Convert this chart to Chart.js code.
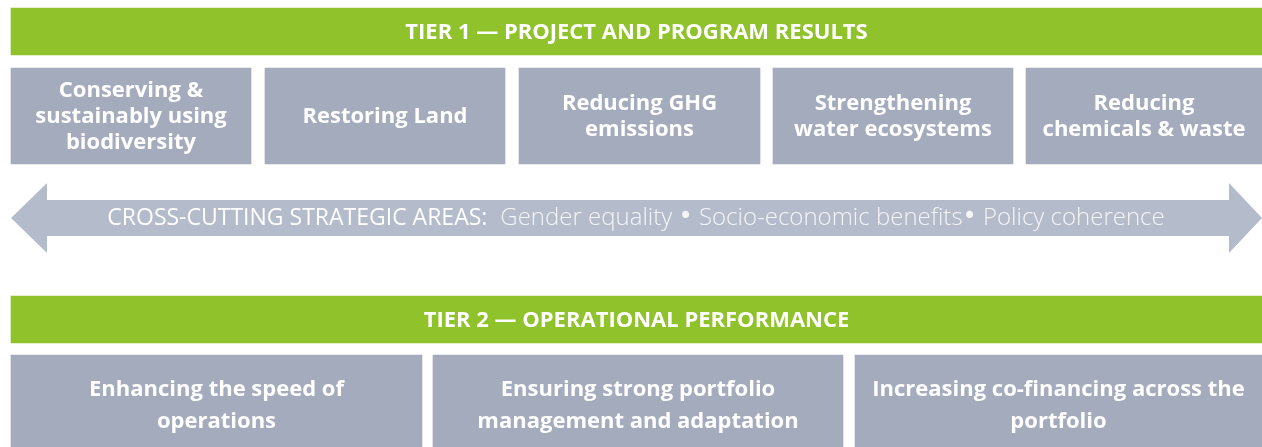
<!DOCTYPE html>
<html>
<head>
<meta charset="utf-8">
<script src="https://cdn.jsdelivr.net/npm/chart.js@4"></script>
<style>
  html, body { margin: 0; padding: 0; background: #fff; }
  #wrap { width: 1262px; height: 447px; }
</style>
</head>
<body>
<div id="wrap"><canvas id="chart"></canvas></div>
<script>
// Tier headers
var tierTitles = ['TIER 1 \u2014 PROJECT AND PROGRAM RESULTS', 'TIER 2 \u2014 OPERATIONAL PERFORMANCE'];
var tierRows = [31.5, 319.5];

// Tier 1 result areas (start / end along the width)
var tier1Areas = [
    ['Conserving &', 'sustainably using', 'biodiversity'],
    ['Restoring Land'],
    ['Reducing GHG', 'emissions'],
    ['Strengthening', 'water ecosystems'],
    ['Reducing', 'chemicals & waste']
];
var tier1Start = [11, 265, 519, 773, 1026];
var tier1End = [251, 505, 760, 1013, 1262];
var tier1Row = 116;

// Tier 2 performance areas
var tier2Areas = [
    ['Enhancing the speed of', 'operations'],
    ['Ensuring strong portfolio', 'management and adaptation'],
    ['Increasing co-financing across the', 'portfolio']
];
var tier2Start = [11, 433, 855];
var tier2End = [422, 843, 1262];
var tier2Row = 403;

// Cross-cutting arrow outline
var arrowX = [11, 47, 47, 1229, 1229, 1262, 1229, 1229, 47, 47, 11];
var arrowY = [218, 183, 200, 200, 183, 218, 253, 236, 236, 253, 218];
var crossTitle = 'CROSS-CUTTING STRATEGIC AREAS:';
var crossItems = ['Gender equality ', '\u2022', ' Socio-economic benefits', '\u2022', ' Policy coherence'];

var green = '#8fc22b';
var grey = '#a3abbd';
var arrowGrey = '#b4bbcb';
var font = '"Open Sans", Lato, sans-serif';

function rows(starts, ends, row, labels) {
    return starts.map(function(s, i) {
        return { x: [s, ends[i]], y: row, lines: labels[i] };
    });
}

var headerData = tierRows.map(function(r, i) {
    return { x: [11, 1262], y: r, lines: [tierTitles[i]] };
});

var arrowData = arrowX.map(function(x, i) { return { x: x, y: arrowY[i] }; });

function pieceFont(t) {
    // bigger round bullet, like the original
    return t === '\u2022' ? '24px "DejaVu Sans", sans-serif' : '300 24px ' + font;
}

// draws the words on the boxes
var labelPlugin = {
    id: 'boxLabels',
    afterDatasetsDraw: function(chart) {
        var ctx = chart.ctx;
        ctx.save();
        ctx.fillStyle = '#ffffff';
        ctx.textAlign = 'center';
        ctx.textBaseline = 'middle';
        chart.data.datasets.forEach(function(ds, di) {
            if (ds.type === 'line') return;
            var meta = chart.getDatasetMeta(di);
            meta.data.forEach(function(bar, i) {
                var lines = ds.data[i].lines;
                var cx = (bar.x + bar.base) / 2;
                var lh = ds.lineHeight;
                var top = bar.y - (lines.length - 1) * lh / 2 + ds.textShift;
                ctx.font = ds.textFont;
                lines.forEach(function(t, k) {
                    ctx.fillText(t, cx, top + k * lh);
                });
            });
        });
        // text on the arrow
        var xs = chart.scales.x, ys = chart.scales.y;
        var y = ys.getPixelForValue(218);
        ctx.textAlign = 'left';
        ctx.font = '400 23px ' + font;
        var w1 = ctx.measureText(crossTitle).width;
        var w2 = 0;
        crossItems.forEach(function(t) {
            ctx.font = pieceFont(t);
            w2 += ctx.measureText(t).width;
        });
        var gap = 13;
        var start = xs.getPixelForValue(636) - (w1 + gap + w2) / 2;
        ctx.font = '400 23px ' + font;
        ctx.fillText(crossTitle, start, y);
        ctx.globalAlpha = 0.85;
        var px = start + w1 + gap;
        crossItems.forEach(function(t) {
            ctx.font = pieceFont(t);
            ctx.fillText(t, px, y);
            px += ctx.measureText(t).width;
        });
        ctx.restore();
    }
};

new Chart(document.getElementById('chart'), {
    type: 'bar',
    data: {
        datasets: [
            {
                type: 'line',
                data: arrowData,
                borderWidth: 0,
                pointRadius: 0,
                backgroundColor: arrowGrey,
                borderColor: arrowGrey,
                fill: 'shape',
                tension: 0,
                order: 5
            },
            {
                data: headerData,
                backgroundColor: green,
                barThickness: 47,
                textFont: 'bold 22px ' + font,
                lineHeight: 24,
                textShift: 1
            },
            {
                data: rows(tier1Start, tier1End, tier1Row, tier1Areas),
                backgroundColor: grey,
                barThickness: 96,
                textFont: 'bold 22px ' + font,
                lineHeight: 26,
                textShift: 1
            },
            {
                data: rows(tier2Start, tier2End, tier2Row, tier2Areas),
                backgroundColor: grey,
                barThickness: 96,
                textFont: 'bold 22px ' + font,
                lineHeight: 32,
                textShift: 3
            }
        ]
    },
    options: {
        indexAxis: 'y',
        responsive: true,
        maintainAspectRatio: false,
        animation: false,
        layout: { padding: 0 },
        datasets: { bar: { grouped: false, borderWidth: 0 } },
        scales: {
            x: { type: 'linear', min: 0, max: 1262, display: false, offset: false },
            y: { type: 'linear', min: 0, max: 447, reverse: true, display: false, offset: false }
        },
        plugins: {
            legend: { display: false },
            tooltip: { enabled: false }
        }
    },
    plugins: [labelPlugin]
});
</script>
</body>
</html>
